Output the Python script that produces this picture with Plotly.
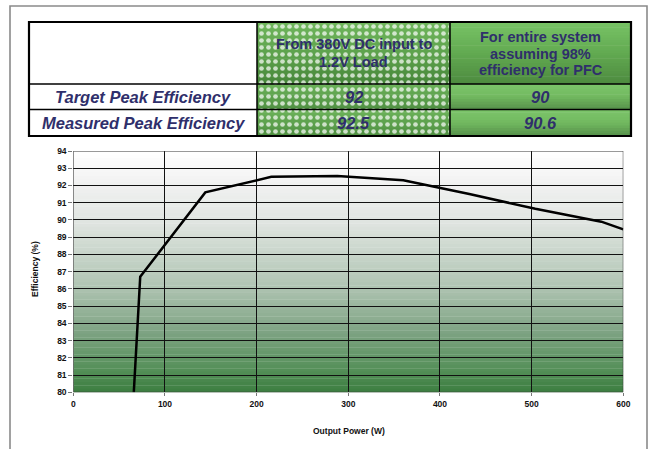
import plotly.graph_objects as go

# Efficiency curve of the 380V DC -> 1.2V converter
power_w = [66, 73, 144, 216, 288, 360, 432, 504, 576, 600]
efficiency_pct = [80.0, 86.7, 91.6, 92.5, 92.55, 92.3, 91.5, 90.65, 89.9, 89.45]

# Summary table
col_headers = [["From 380V DC input to", "1.2V Load"],
               ["For entire system", "assuming 98%", "efficiency for PFC"]]
row_labels = ["Target Peak Efficiency", "Measured Peak Efficiency"]
row_values = [["92", "90"], ["92.5", "90.6"]]

x_ticks = [0, 100, 200, 300, 400, 500, 600]
y_ticks = list(range(80, 95))

W, H = 653, 449
NAVY = "#2f2f6b"


def fx(p):
    return p / W


def fy(p):
    return 1 - p / H


def mix(c1, c2, t):
    a = [int(c1[i:i + 2], 16) for i in (1, 3, 5)]
    b = [int(c2[i:i + 2], 16) for i in (1, 3, 5)]
    return "rgb(%d,%d,%d)" % tuple(round(a[k] + (b[k] - a[k]) * t) for k in range(3))


def multi_mix(stops, t):
    for (t0, c0), (t1, c1) in zip(stops, stops[1:]):
        if t <= t1:
            return mix(c0, c1, (t - t0) / (t1 - t0) if t1 > t0 else 0)
    return stops[-1][1]


shapes = []


def gradient_rect(x0, x1, y0, y1, stops, n=24):
    """Vertical gradient made of thin strips, y0 top, y1 bottom (pixel coords)."""
    for i in range(n):
        a = y0 + (y1 - y0) * i / n
        b = y0 + (y1 - y0) * (i + 1) / n + 0.6
        shapes.append(dict(type="rect", xref="paper", yref="paper",
                           x0=fx(x0), x1=fx(x1), y0=fy(min(b, y1)), y1=fy(a),
                           line=dict(width=0),
                           fillcolor=multi_mix(stops, (i + 0.5) / n), layer="below"))


# ---- plot area background gradient (data coords) ----
bg_stops = [(0.0, "#ffffff"), (0.12, "#f3f3f3"), (0.3, "#dfe4e0"),
            (0.55, "#b2c6b5"), (0.75, "#7ea383"), (0.9, "#56905a"), (1.0, "#3c7e40")]
n_bg = 70
for i in range(n_bg):
    a = 94 - 14 * i / n_bg
    b = 94 - 14 * (i + 1) / n_bg
    shapes.append(dict(type="rect", xref="x", yref="y", x0=0, x1=600,
                       y0=b - 0.02, y1=a, line=dict(width=0),
                       fillcolor=multi_mix(bg_stops, (i + 0.5) / n_bg), layer="below"))

# ---- table geometry (pixels) ----
tx0, tx1, tx2, tx3 = 29, 257, 450, 631
ty0, ty1, ty2, ty3 = 22, 84, 109.5, 136

# cells
gradient_rect(tx1, tx2, ty0, ty1, [(0, "#6fb65c"), (0.6, "#5a9e4a"), (1, "#468539")])
gradient_rect(tx1, tx2, ty1, ty2, [(0, "#6cb35a"), (1, "#4f8f41")], n=10)
gradient_rect(tx1, tx2, ty2, ty3, [(0, "#6cb35a"), (1, "#4f8f41")], n=10)
gradient_rect(tx2, tx3, ty0, ty1, [(0, "#78c366"), (0.5, "#62aa51"), (1, "#4d8a3f")])
gradient_rect(tx2, tx3, ty1, ty2, [(0, "#7cc56a"), (0.5, "#72b960"), (1, "#55904a")], n=10)
gradient_rect(tx2, tx3, ty2, ty3, [(0, "#7cc56a"), (0.5, "#72b960"), (1, "#55904a")], n=10)

# table lines
for yy in (ty1, ty2):
    shapes.append(dict(type="line", xref="paper", yref="paper", x0=fx(tx0), x1=fx(tx3),
                       y0=fy(yy), y1=fy(yy), line=dict(color="black", width=1.5)))
for xx in (tx1, tx2):
    shapes.append(dict(type="line", xref="paper", yref="paper", x0=fx(xx), x1=fx(xx),
                       y0=fy(ty0), y1=fy(ty3), line=dict(color="black", width=1.5)))
shapes.append(dict(type="rect", xref="paper", yref="paper", x0=fx(tx0), x1=fx(tx3),
                   y0=fy(ty3), y1=fy(ty0), line=dict(color="black", width=2.2)))

# outer frame (open at the bottom)
shapes.append(dict(type="path", xref="paper", yref="paper",
                   path="M %f,%f L %f,%f L %f,%f L %f,%f" % (
                       fx(10), fy(449), fx(10), fy(6), fx(647), fy(6), fx(647), fy(449)),
                   line=dict(color="#8a8a8a", width=1.6)))

# plot area border
shapes.append(dict(type="rect", xref="x", yref="y", x0=0, x1=600, y0=80, y1=94,
                   line=dict(color="#333333", width=1)))

annotations = []
hdr_font = dict(family="Liberation Sans, Arial", size=14.5, color=NAVY)
hdr_line_y = [[44, 61.5], [37, 53.5, 70]]
for lines, ys, (a, b) in zip(col_headers, hdr_line_y, [(tx1, tx2), (tx2, tx3)]):
    for text, yy in zip(lines, ys):
        annotations.append(dict(xref="paper", yref="paper", x=fx((a + b) / 2), y=fy(yy),
                                text="<b>%s</b>" % text, showarrow=False, font=hdr_font,
                                xanchor="center", yanchor="middle"))
row_font = dict(family="Liberation Sans, Arial", size=16.5, color=NAVY)
for label, vals, (a, b) in zip(row_labels, row_values, [(ty1, ty2), (ty2, ty3)]):
    yc = fy((a + b) / 2)
    annotations.append(dict(xref="paper", yref="paper", x=fx((tx0 + tx1) / 2), y=yc,
                            text="<b><i>%s</i></b>" % label, showarrow=False, font=row_font,
                            xanchor="center", yanchor="middle"))
    for v, (c0, c1) in zip(vals, [(tx1, tx2), (tx2, tx3)]):
        annotations.append(dict(xref="paper", yref="paper", x=fx((c0 + c1) / 2), y=yc,
                                text="<b><i>%s</i></b>" % v, showarrow=False, font=row_font,
                                xanchor="center", yanchor="middle"))

axis_font = dict(family="Liberation Sans, Arial", size=8.5, color="#111111")
annotations.append(dict(xref="paper", yref="paper", x=fx(349), y=fy(431), text="<b>Output Power (W)</b>",
                        showarrow=False, font=axis_font, xanchor="center", yanchor="middle"))
annotations.append(dict(xref="paper", yref="paper", x=fx(35), y=fy(269), text="<b>Efficiency (%)</b>",
                        showarrow=False, font=axis_font, xanchor="center", yanchor="middle",
                        textangle=-90))

fig = go.Figure()

# dotted texture over the first value column
fig.add_trace(go.Bar(x=[0.5], y=[1], width=[1], xaxis="x2", yaxis="y2",
                     marker=dict(color="rgba(0,0,0,0)", line=dict(width=0),
                                 pattern=dict(shape=".", fgcolor="white", fgopacity=0.7,
                                              size=7, solidity=0.35, fillmode="overlay")),
                     hoverinfo="skip", showlegend=False))

fig.add_trace(go.Scatter(x=power_w, y=efficiency_pct, mode="lines",
                         line=dict(color="black", width=2.5), showlegend=False))

fig.update_layout(
    width=W, height=H, autosize=False, margin=dict(l=0, r=0, t=0, b=0, pad=0),
    paper_bgcolor="white", plot_bgcolor="white",
    shapes=shapes, annotations=annotations,
    xaxis=dict(domain=[fx(73.3), fx(623.3)], range=[0, 600], tickvals=x_ticks,
               ticktext=["<b>%d</b>" % v for v in x_ticks],
               showgrid=True, gridcolor="#111111", gridwidth=1, zeroline=False,
               ticks="outside", ticklen=3, tickcolor="#777777", tickfont=axis_font,
               showline=False, fixedrange=True, automargin=False),
    yaxis=dict(domain=[fy(392.3), fy(151)], range=[80, 94], tickvals=y_ticks,
               ticktext=["<b>%d</b>" % v for v in y_ticks],
               showgrid=True, gridcolor="#111111", gridwidth=1, zeroline=False,
               ticks="outside", ticklen=4, tickcolor="#777777", tickfont=axis_font,
               showline=False, fixedrange=True, automargin=False),
    xaxis2=dict(domain=[fx(tx1 + 1), fx(tx2 - 1)], range=[0, 1], visible=False, anchor="y2"),
    yaxis2=dict(domain=[fy(ty3 - 1), fy(ty0 + 1)], range=[0, 1], visible=False, anchor="x2"),
    bargap=0,
)

fig.write_html("out.html", config={"responsive": False, "displayModeBar": False},
               post_script="document.body.style.margin='0';document.body.style.overflow='hidden';")
